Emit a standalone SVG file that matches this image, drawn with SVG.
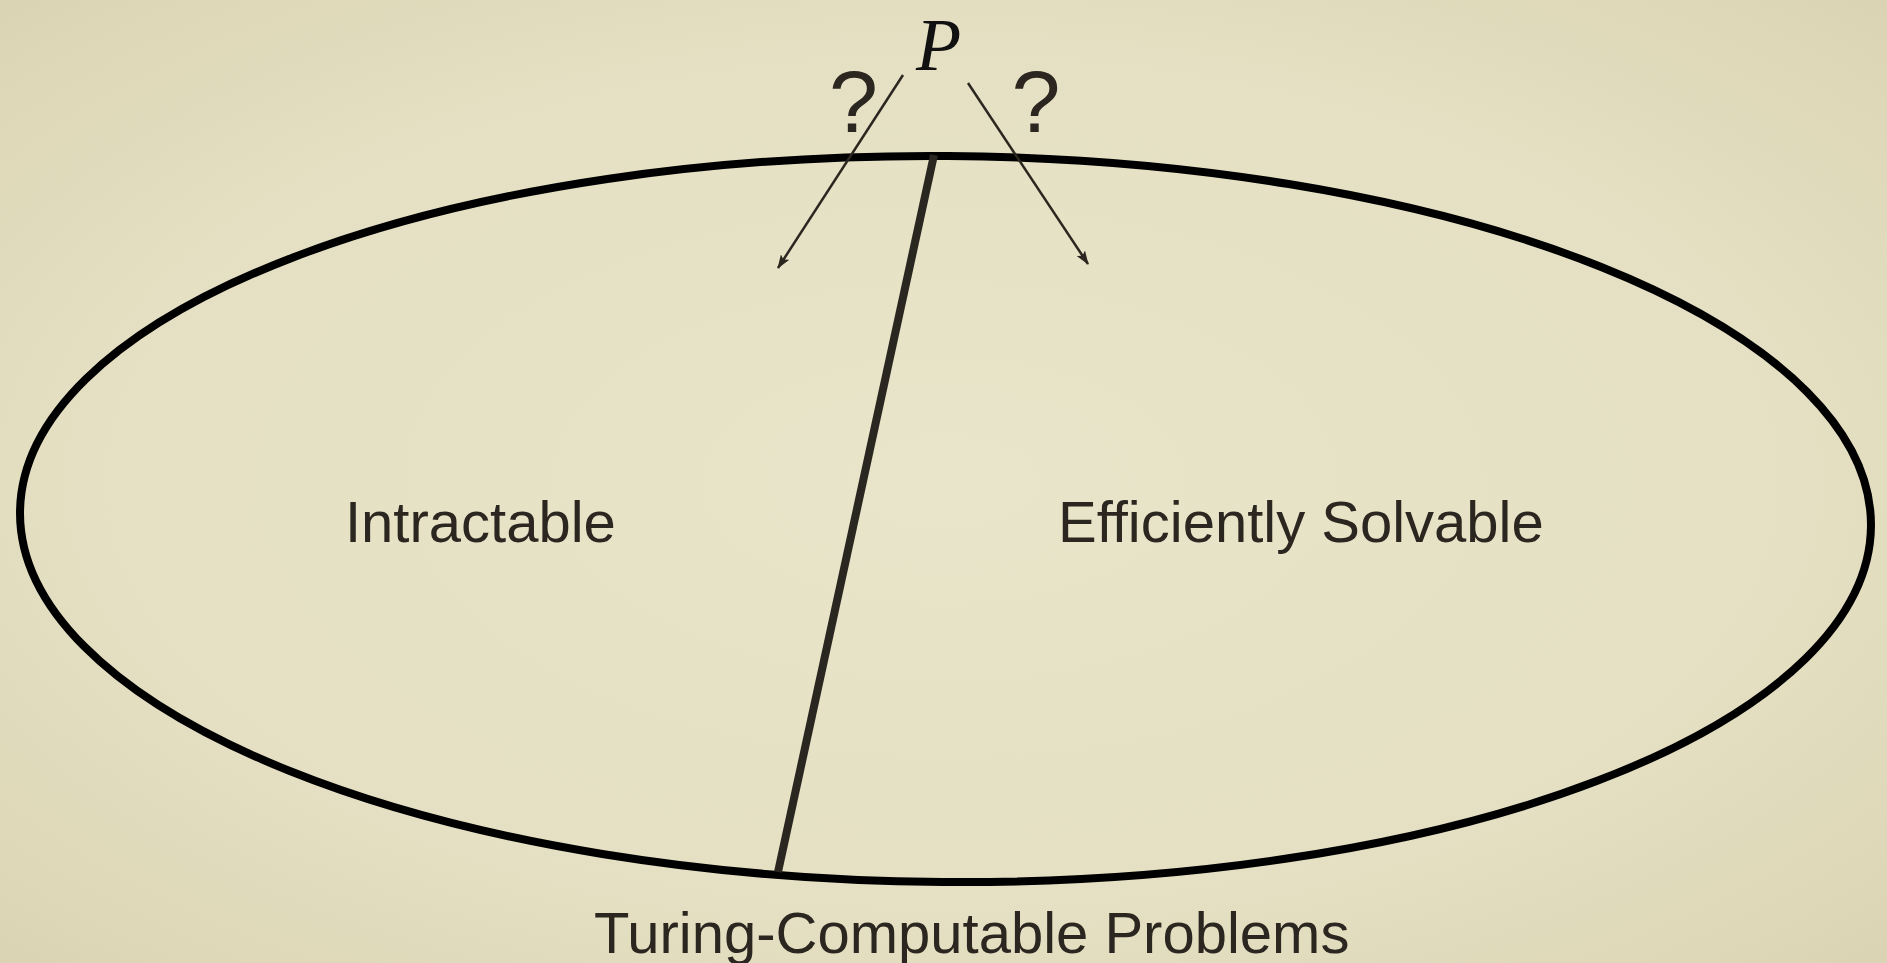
<svg xmlns="http://www.w3.org/2000/svg" width="1887" height="963" viewBox="0 0 1887 963">
  <defs>
    <radialGradient id="bg" cx="50%" cy="50%" r="75%">
      <stop offset="0" stop-color="#e9e5ca"/>
      <stop offset="0.6" stop-color="#e5e0c3"/>
      <stop offset="1" stop-color="#d9d1b1"/>
    </radialGradient>
    <marker id="arr" viewBox="0 0 14 10" refX="13" refY="5" markerWidth="14" markerHeight="10" markerUnits="userSpaceOnUse" orient="auto">
      <path d="M0,0 L14,5 L0,10 L3,5 Z" fill="#2b2720"/>
    </marker>
    <style>
      .lbl { font-family: "Liberation Sans", Arial, sans-serif; font-size: 58px; fill: #2b2720; }
      .q { font-family: "Liberation Sans", Arial, sans-serif; font-size: 88px; fill: #2b2720; text-anchor: middle; }
      .conn { stroke: #2b2720; stroke-width: 2.5; fill: none; }
    </style>
  </defs>
  <rect width="1887" height="963" fill="url(#bg)"/>

  <g id="universe">
    <ellipse cx="945.5" cy="519" rx="925.5" ry="363" fill="none" stroke="#000" stroke-width="8" transform="rotate(0.43 945.5 519)"/>
    <text class="lbl" x="594" y="953">Turing-Computable Problems</text>
  </g>

  <g id="divider">
    <line x1="934" y1="155" x2="778" y2="872" stroke="#2a2620" stroke-width="8"/>
  </g>

  <g id="intractable">
    <text class="lbl" x="345" y="542">Intractable</text>
  </g>

  <g id="efficient">
    <text class="lbl" x="1058" y="542">Efficiently Solvable</text>
  </g>

  <g id="P">
    <text x="916" y="70" font-family="'Liberation Serif', 'Times New Roman', serif" font-style="italic" font-size="74" fill="#111">P</text>
  </g>

  <g id="connectors">
    <line class="conn" x1="903" y1="75" x2="778" y2="268" marker-end="url(#arr)"/>
    <line class="conn" x1="968" y1="83" x2="1088" y2="264" marker-end="url(#arr)"/>
    <text class="q" x="853.5" y="132">?</text>
    <text class="q" x="1036" y="132">?</text>
  </g>
</svg>
